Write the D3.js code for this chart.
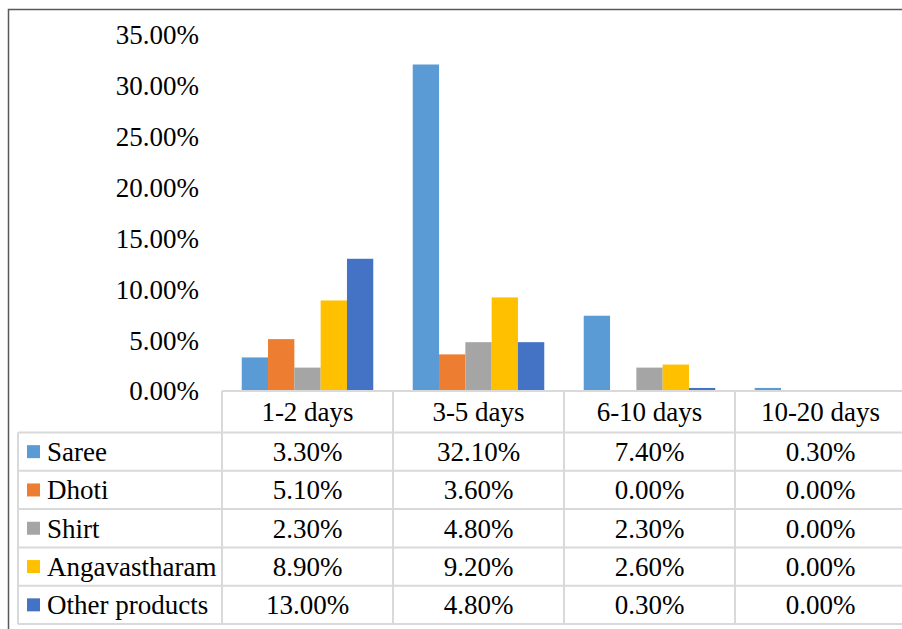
<!DOCTYPE html>
<html>
<head>
<meta charset="utf-8">
<script src="https://cdn.jsdelivr.net/npm/d3@7"></script>
</head>
<body style="margin:0">
<script>
// data (percent)
var categories = ["1-2 days", "3-5 days", "6-10 days", "10-20 days"];
var series = ["Saree", "Dhoti", "Shirt", "Angavastharam", "Other products"];
var saree = [3.3, 32.1, 7.4, 0.3];
var dhoti = [5.1, 3.6, 0.0, 0.0];
var shirt = [2.3, 4.8, 2.3, 0.0];
var angavastharam = [8.9, 9.2, 2.6, 0.0];
var otherProducts = [13.0, 4.8, 0.3, 0.0];
var yTicks = [0, 5, 10, 15, 20, 25, 30, 35];
var colors = ["#5B9BD5", "#ED7D31", "#A5A5A5", "#FFC000", "#4472C4"];

var values = [saree, dhoti, shirt, angavastharam, otherProducts];

var W = 902, H = 629;
var fontSize = "27px";
var gridColor = "#D9D9D9";

var svg = d3.select("body").append("svg")
    .attr("width", W)
    .attr("height", H);

// outer chart border
svg.append("rect")
    .attr("x", 8.5).attr("y", 9.5)
    .attr("width", 1000).attr("height", 1000)
    .attr("fill", "none")
    .attr("stroke", "#595959")
    .attr("stroke-width", 1.5);

var plotLeft = 222, colW = 171;
var x = d3.scaleBand().domain(categories).range([plotLeft, plotLeft + colW * categories.length]);
var y = d3.scaleLinear().domain([0, 35]).range([391, 35]);

var xs = d3.scaleBand().domain(series).range([0, x.bandwidth()]).paddingInner(0).paddingOuter(0.75);

// y axis labels
svg.append("g").selectAll("text")
    .data(yTicks)
    .enter().append("text")
        .attr("x", 199)
        .attr("y", function(d) { return y(d); })
        .attr("dy", "0.35em")
        .attr("text-anchor", "end")
        .style("font-family", function() { return "'Liberation Serif'"; })
        .style("font-size", fontSize)
        .text(function(d) { return d3.format(".2f")(d) + "%"; });

// bars
var groups = svg.append("g").selectAll("g")
    .data(series)
    .enter().append("g")
        .attr("fill", function(d, i) { return colors[i]; });

groups.selectAll("rect")
    .data(function(s, i) { return values[i].map(function(v, j) { return {s: s, cat: categories[j], v: v}; }); })
    .enter().append("rect")
        .attr("x", function(d) { return x(d.cat) + xs(d.s); })
        .attr("y", function(d) { return y(d.v); })
        .attr("width", xs.bandwidth())
        .attr("height", function(d) { return y(0) - y(d.v); });

// data table
var headTop = y(0), headBottom = 432.5, rowH = 38.3;
var tableLeft = 18, tableRight = plotLeft + colW * categories.length;
var table = svg.append("g")
    .attr("stroke", gridColor)
    .attr("stroke-width", 2);

// horizontal lines
table.append("line")
    .attr("x1", plotLeft).attr("x2", tableRight)
    .attr("y1", headTop).attr("y2", headTop);
d3.range(series.length + 1).forEach(function(i) {
    var yy = headBottom + i * rowH;
    table.append("line")
        .attr("x1", tableLeft).attr("x2", tableRight)
        .attr("y1", yy).attr("y2", yy);
});
// vertical lines
table.append("line")
    .attr("x1", tableLeft).attr("x2", tableLeft)
    .attr("y1", headBottom).attr("y2", headBottom + rowH * series.length);
d3.range(categories.length + 1).forEach(function(i) {
    var xx = plotLeft + i * colW;
    table.append("line")
        .attr("x1", xx).attr("x2", xx)
        .attr("y1", headTop).attr("y2", headBottom + rowH * series.length);
});

// header text
svg.append("g").selectAll("text")
    .data(categories)
    .enter().append("text")
        .attr("x", function(d) { return x(d) + x.bandwidth() / 2; })
        .attr("y", (headTop + headBottom) / 2)
        .attr("dy", "0.35em")
        .attr("text-anchor", "middle")
        .style("font-family", "'Liberation Serif'")
        .style("font-size", fontSize)
        .text(function(d) { return d; });

// legend column
var rows = svg.append("g").selectAll("g")
    .data(series)
    .enter().append("g")
        .attr("transform", function(d, i) { return "translate(0," + (headBottom + i * rowH + rowH / 2) + ")"; });

rows.append("rect")
    .attr("x", 27).attr("y", -6.5)
    .attr("width", 13).attr("height", 13)
    .attr("fill", function(d, i) { return colors[i]; });

rows.append("text")
    .attr("x", 47)
    .attr("dy", "0.35em")
    .style("font-family", "'Liberation Serif'")
    .style("font-size", fontSize)
    .text(function(d) { return d; });

rows.selectAll("text.val")
    .data(function(s, i) { return values[i]; })
    .enter().append("text")
        .attr("class", "val")
        .attr("x", function(d, j) { return x(categories[j]) + x.bandwidth() / 2; })
        .attr("dy", "0.35em")
        .attr("text-anchor", "middle")
        .style("font-family", "'Liberation Serif'")
        .style("font-size", fontSize)
        .text(function(d) { return d3.format(".2f")(d) + "%"; });
</script>
</body>
</html>
